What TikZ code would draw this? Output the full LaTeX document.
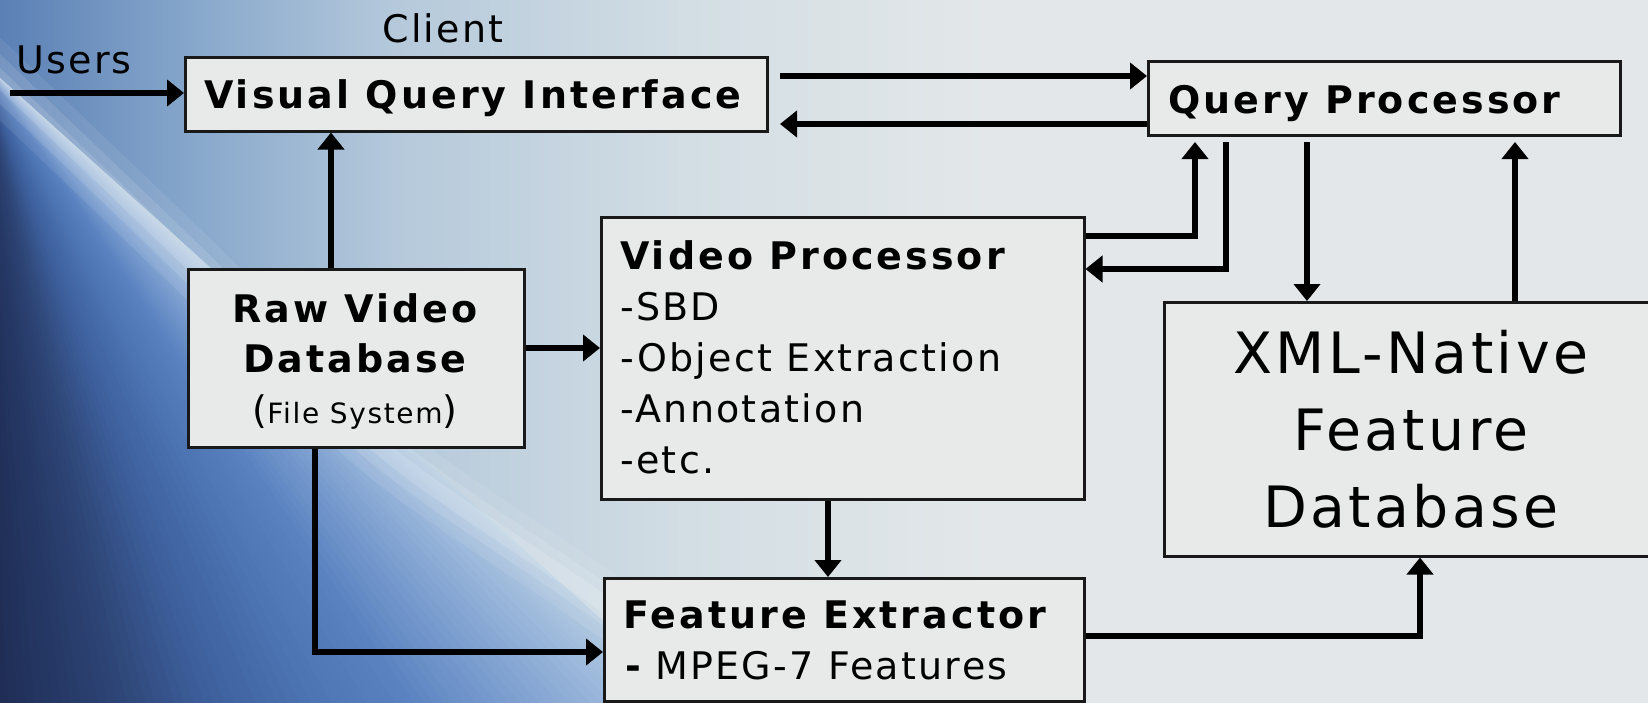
\documentclass[tikz,border=0pt]{standalone}
\usepackage{fontspec}
\setmainfont{DejaVu Sans}[LetterSpace=6]
\newfontfamily\bfam{DejaVu Sans Bold}[LetterSpace=8]
\usetikzlibrary{arrows.meta}
\definecolor{bgc}{HTML}{E3E7E9}
\definecolor{boxc}{HTML}{E8EAEA}
\definecolor{h0}{HTML}{5A80B5}
\definecolor{h1}{HTML}{88A8CC}
\definecolor{h2}{HTML}{B5C9DB}
\definecolor{h3}{HTML}{D3DEE4}
\definecolor{g0}{HTML}{B4CBE0}
\definecolor{g1}{HTML}{9DB9DB}
\definecolor{g2}{HTML}{7C9FD0}
\definecolor{g3}{HTML}{5A82C0}
\definecolor{g4}{HTML}{4D74B3}
\definecolor{g5}{HTML}{3D5F9C}
\definecolor{g6}{HTML}{2C4373}
\definecolor{g7}{HTML}{21315B}
\definecolor{g8}{HTML}{1B2340}
\pgfdeclarehorizontalshading{bgh}{100bp}{color(0bp)=(h0); color(25bp)=(h0); color(31bp)=(h1); color(37bp)=(h2); color(46bp)=(h3); color(55bp)=(bgc); color(100bp)=(bgc)}
\begin{document}
\begin{tikzpicture}[x=1pt,y=-1pt,
  box/.style={draw=black!90, line width=2.5pt, fill=boxc, inner sep=0pt, anchor=north west},
  arr/.style={line width=5.5pt, -{Triangle[length=17pt,width=26pt]}},
  txt/.style={inner sep=0pt, anchor=base west, font=\fontsize{38}{46}\selectfont},
  btxt/.style={txt, font=\fontsize{38}{46}\selectfont\bfam},
  bigtxt/.style={inner sep=0pt, anchor=base, font=\fontsize{57}{70}\selectfont},
  glow/.style={white, line cap=round}
]
\useasboundingbox (0,0) rectangle (1648,702);
\begin{scope}
\clip (0,0) rectangle (1648,702);
\shade[shading=bgh] (0,0) rectangle (1648,702);
\coordinate (C) at (-20,60);
\foreach \aa/\ab/\ca/\cb in {42/45/g0/g1, 45/50/g1/g2, 50/56/g2/g3, 56/62/g3/g4, 62/70/g4/g5, 70/78/g5/g6, 78/86/g6/g7, 86/94/g7/g8} {
  \foreach \k in {0,...,9} {
    \pgfmathsetmacro\angA{\aa+(\ab-\aa)*\k/10}
    \pgfmathsetmacro\angB{\angA+(\ab-\aa)*0.16}
    \pgfmathsetmacro\pc{\k*10}
    \colorlet{wc}{\cb!\pc!\ca}
    \fill[wc] (C) -- +(\angA:1500) -- +(\angB:1500) -- cycle;
  }
}
\fill[g8] (C) -- +(93.9:1500) -- +(110:1500) -- cycle;
\draw[glow, line width=60pt, draw opacity=0.08] plot[smooth] coordinates {(-20,60) (43,120) (190,261) (380,447) (580,587) (760,712)};
\draw[glow, line width=36pt, draw opacity=0.11] plot[smooth] coordinates {(-20,60) (43,120) (190,261) (380,447) (580,587) (760,712)};
\draw[glow, line width=16pt, draw opacity=0.13] plot[smooth] coordinates {(-20,60) (43,120) (190,261) (380,447) (580,587) (760,712)};
\end{scope}

% boxes
\node[box, minimum width=582, minimum height=74] (vqi) at (184,56) {};
\node[box, minimum width=472, minimum height=74] (qp) at (1147,60) {};
\node[box, minimum width=336, minimum height=178] (rvd) at (187,268) {};
\node[box, minimum width=483, minimum height=282] (vp) at (600,216) {};
\node[box, minimum width=497, minimum height=254] (xml) at (1163,301) {};
\node[box, minimum width=480, minimum height=123] (fe) at (603,577) {};

% texts
\node[txt, anchor=base] (client) at (443,42) {Client};
\node[txt] (users) at (16,73) {Users};
\node[btxt] (vqit) at (204,108) {Visual Query Interface};
\node[btxt] (qpt) at (1168,113) {Query Processor};
\node[btxt, anchor=base] (rvd1) at (355,322) {Raw Video};
\node[btxt, anchor=base] (rvd2) at (355,372) {Database};
\node[txt, anchor=base] (rvd3) at (355,423) {({\fontsize{28}{34}\selectfont File System})};
\node[btxt] (vp1) at (620,269) {Video Processor};
\node[txt] (vp2) at (620,320) {-SBD};
\node[txt] (vp3) at (620,371) {-Object Extraction};
\node[txt] (vp4) at (620,422) {-Annotation};
\node[txt] (vp5) at (620,473) {-etc.};
\node[bigtxt] (xml1) at (1411,373) {XML-Native};
\node[bigtxt] (xml2) at (1411,450) {Feature};
\node[bigtxt] (xml3) at (1411,527) {Database};
\node[btxt] (fe1) at (623,628) {Feature Extractor};
\node[txt] (fe2) at (625,679) {{\bfam -} MPEG-7 Features};

% connectors
\coordinate (uin) at (10,93);
\draw[arr] (uin) -- (uin -| vqi.west);
\coordinate (q1) at (780,76);
\draw[arr] (q1) -- (q1 -| qp.west);
\coordinate (q2) at (780,124);
\draw[arr] (q2 -| qp.west) -- (q2);
\coordinate (r1) at (331,0);
\draw[arr] (r1 |- rvd.north) -- (r1 |- vqi.south);
\coordinate (r2) at (0,348);
\draw[arr] (r2 -| rvd.east) -- (r2 -| vp.west);
\coordinate (r3) at (315,652);
\draw[arr] (r3 |- rvd.south) -- (r3) -- (r3 -| fe.west);
\coordinate (qpb) at (0,142);
\coordinate (v1) at (1195,236);
\draw[arr] (v1 -| vp.east) -- (v1) -- (v1 |- qpb);
\coordinate (v2) at (1226,269);
\draw[arr] (v2 |- qpb) -- (v2) -- (v2 -| vp.east);
\coordinate (x1) at (1307,0);
\draw[arr] (x1 |- qpb) -- (x1 |- xml.north);
\coordinate (x2) at (1515,0);
\draw[arr] (x2 |- xml.north) -- (x2 |- qpb);
\coordinate (v3) at (828,0);
\draw[arr] (v3 |- vp.south) -- (v3 |- fe.north);
\coordinate (f1) at (1420,636);
\draw[arr] (f1 -| fe.east) -- (f1) -- (f1 |- xml.south);
\end{tikzpicture}
\end{document}
